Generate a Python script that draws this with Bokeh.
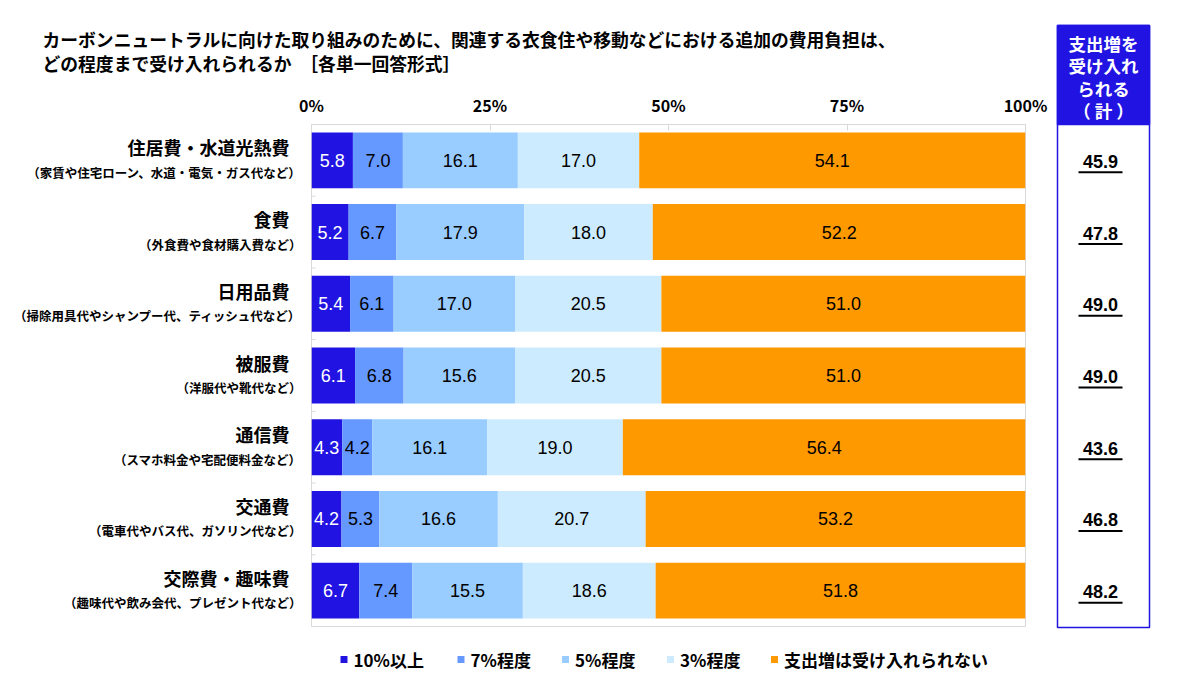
from bokeh.plotting import figure
from bokeh.models import ColumnDataSource, Range1d, FixedTicker, LinearAxis
from bokeh.core.properties import value
from bokeh.embed import file_html
from bokeh.resources import INLINE

# ---- data -------------------------------------------------------------
categories = ["住居費・水道光熱費", "食費", "日用品費", "被服費", "通信費", "交通費", "交際費・趣味費"]
notes = [
    "（家賃や住宅ローン、水道・電気・ガス代など）",
    "（外食費や食材購入費など）",
    "（掃除用具代やシャンプー代、ティッシュ代など）",
    "（洋服代や靴代など）",
    "（スマホ料金や宅配便料金など）",
    "（電車代やバス代、ガソリン代など）",
    "（趣味代や飲み会代、プレゼント代など）",
]
series_names = ["10%以上", "7%程度", "5%程度", "3%程度", "支出増は受け入れられない"]
p10 = [5.8, 5.2, 5.4, 6.1, 4.3, 4.2, 6.7]
p7 = [7.0, 6.7, 6.1, 6.8, 4.2, 5.3, 7.4]
p5 = [16.1, 17.9, 17.0, 15.6, 16.1, 16.6, 15.5]
p3 = [17.0, 18.0, 20.5, 20.5, 19.0, 20.7, 18.6]
p_none = [54.1, 52.2, 51.0, 51.0, 56.4, 53.2, 51.8]
totals = [45.9, 47.8, 49.0, 49.0, 43.6, 46.8, 48.2]
x_ticks = [0, 25, 50, 75, 100]
title_lines = ["カーボンニュートラルに向けた取り組みのために、関連する衣食住や移動などにおける追加の費用負担は、",
               "どの程度まで受け入れられるか　［各単一回答形式］"]
total_header = ["支出増を", "受け入れ", "られる", "（ 計 ）"]

colors = ["#2114E2", "#6699FF", "#99CCFF", "#CCEBFF", "#FF9900"]
label_colors = ["white", "black", "black", "black", "black"]

JP = "Noto Sans CJK JP"
NUM = "Liberation Sans"
BLUE = "#2114E2"
GRID = "#D9D9D9"

# ---- frame geometry (canvas pixels) -----------------------------------
W, H = 1204, 688
FL, FR, FT, FB = 311, 1025, 124, 626
NCAT = len(categories)


def xd(px):
    """canvas x pixel -> data x"""
    return (px - FL) * 100.0 / (FR - FL)


def yd(py):
    """canvas y pixel -> data y"""
    return (py - FT) * NCAT / (FB - FT)


def dy(pix):
    return pix * NCAT / (FB - FT)


ypos = [i + 0.5 for i in range(NCAT)]
keys = ["s0", "s1", "s2", "s3", "s4"]
series = [p10, p7, p5, p3, p_none]
src = ColumnDataSource(dict(y=ypos, **{k: v for k, v in zip(keys, series)}))

p = figure(width=W, height=H, output_backend="svg", toolbar_location=None,
           x_range=Range1d(0, 100), y_range=Range1d(NCAT, 0),
           x_axis_location=None, y_axis_location=None,
           min_border_left=FL, min_border_right=W - FR,
           min_border_top=FT, min_border_bottom=H - FB)
p.grid.visible = False
p.outline_line_color = GRID
p.outline_line_width = 1
p.background_fill_color = "white"
p.border_fill_color = "white"

renderers = p.hbar_stack(keys, y="y", height=0.78, color=colors, source=src,
                         line_color=None)

# percentage axis on top
top_axis = LinearAxis(ticker=FixedTicker(ticks=x_ticks),
                      major_label_overrides={t: f"{t}%" for t in x_ticks})
top_axis.axis_line_color = GRID
top_axis.major_tick_line_color = GRID
top_axis.major_tick_in = 6
top_axis.major_tick_out = 0
top_axis.minor_tick_line_color = None
top_axis.major_label_text_font = JP
top_axis.major_label_text_font_style = "bold"
top_axis.major_label_text_font_size = "16px"
top_axis.major_label_text_color = "black"
top_axis.major_label_standoff = 8
p.add_layout(top_axis, "above")

# small separator ticks between categories on the left edge
seps = list(range(1, NCAT))
p.segment(x0=[0] * len(seps), x1=[xd(315)] * len(seps), y0=seps, y1=seps,
          line_color=GRID, line_width=1)

# value labels inside segments
for k, (vals, tc) in enumerate(zip(series, label_colors)):
    xs = []
    for i in range(NCAT):
        left = sum(series[j][i] for j in range(k))
        xs.append(left + vals[i] / 2.0)
    p.text(x=xs, y=ypos, text=[f"{v:.1f}" for v in vals],
           text_align="center", text_baseline="middle",
           text_font=value(NUM), text_font_size="18px", text_color=tc)

# category names and notes
p.text(x=[xd(289)] * NCAT, y=[y - dy(13) for y in ypos], text=categories,
       text_align="right", text_baseline="middle", text_font=value(JP),
       text_font_style="bold", text_font_size="18px", text_color="black",
       level="annotation")
p.text(x=[xd(301)] * NCAT, y=[y + dy(12) for y in ypos], text=notes,
       text_align="right", text_baseline="middle", text_font=value(JP),
       text_font_style="bold", text_font_size="12.5px", text_color="black",
       level="annotation")

# title
p.text(x=[xd(42)] * 2, y=[yd(38), yd(62)], text=title_lines,
       text_align="left", text_baseline="middle", text_font=value(JP),
       text_font_style="bold", text_font_size="17.8px", text_color="black",
       level="annotation")

# totals column: blue header + framed box
BL, BR, BT, BB, HB = 1057, 1149, 25, 627, 124
p.quad(left=[xd(BL)], right=[xd(BR)], top=[yd(BT)], bottom=[yd(HB)],
       fill_color=BLUE, line_color=BLUE, line_width=1.5, level="annotation")
p.quad(left=[xd(BL)], right=[xd(BR)], top=[yd(BT)], bottom=[yd(BB)],
       fill_alpha=0, line_color=BLUE, line_width=1.5, level="annotation")
p.text(x=[xd(1103)] * 4, y=[yd(43), yd(65), yd(88), yd(110)], text=total_header,
       text_align="center", text_baseline="middle", text_font=value(JP),
       text_font_style="bold", text_font_size="17.5px", text_color="white",
       level="annotation")

p.text(x=[xd(1100)] * NCAT, y=[y + dy(1) for y in ypos],
       text=[f"{t:.1f}" for t in totals], text_align="center",
       text_baseline="middle", text_font=value(NUM), text_font_style="bold",
       text_font_size="18px", text_color="black", level="annotation")
p.segment(x0=[xd(1078)] * NCAT, x1=[xd(1122)] * NCAT,
          y0=[y + dy(12) for y in ypos], y1=[y + dy(12) for y in ypos],
          line_color="black", line_width=2, level="annotation")

# legend row under the bars
leg_px = [343.5, 460.5, 565, 670, 774]
leg_cy = 659
p.quad(left=[xd(v - 3.5) for v in leg_px], right=[xd(v + 3.5) for v in leg_px],
       top=[yd(leg_cy - 3.5)] * 5, bottom=[yd(leg_cy + 3.5)] * 5,
       fill_color=colors, line_color=None, level="annotation")
p.text(x=[xd(v + 9.5) for v in leg_px], y=[yd(leg_cy)] * 5, text=series_names,
       text_align="left", text_baseline="middle", text_font=value(JP),
       text_font_style="bold", text_font_size="17px", text_color="black",
       level="annotation")

open("out.html", "w").write(file_html(p, INLINE))
